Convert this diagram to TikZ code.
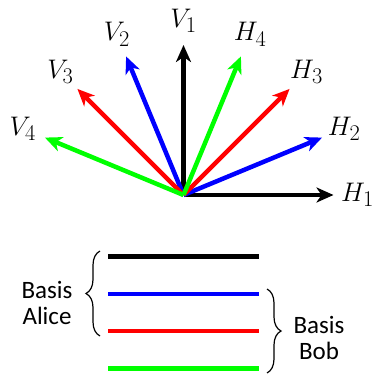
\documentclass[tikz,border=0pt]{standalone}
\usepackage{fontspec}
\usetikzlibrary{arrows.meta,calc,decorations.pathreplacing}
\newfontfamily\carl{Carlito}
\begin{document}
\begin{tikzpicture}[x=1pt,y=-1pt,
  arr/.style={line width=4.5pt,-{Stealth[length=17pt,width=15pt,inset=5pt]}},
  lab/.style={font=\fontsize{24.88}{30}\selectfont, inner sep=0pt},
  bar/.style={line width=4.5pt},
  brc/.style={line width=1.2pt, decorate, decoration={brace, amplitude=14pt}},
  txt/.style={font=\carl\fontsize{25}{26}\selectfont, align=center, inner sep=0pt}]
\useasboundingbox (0,0) rectangle (374,374);
\coordinate (O) at (183.5,195);
\foreach \a/\c/\n/\l in {0/black/h1/H_1, 90/black/v1/V_1,
   22.5/blue/h2/H_2, 112.5/blue/v2/V_2,
   45/red/h3/H_3, 135/red/v3/V_3,
   67.5/green/h4/H_4, 157.5/green/v4/V_4}{
  \coordinate (\n) at ($(O)+(-\a:150)$);
  \draw[arr,\c] (O) -- (\n);
  \node[lab] (lab\n) at ($(O)+(-\a:174)$) {\scalebox{1.08}{$\l$}};
}
\draw[bar,black] (108,256.5) -- (259,256.5);
\draw[bar,blue]  (108,294) -- (259,294);
\draw[bar,red]   (108,331) -- (259,331);
\draw[bar,green] (108,368.5) -- (259,368.5);
\draw[brc] (100,336) -- (100,251);
\draw[brc] (267,289) -- (267,373);
\node[txt] (alice) at (47,303) {Basis\\Alice};
\node[txt] (bob) at (319,338) {Basis\\Bob};
\end{tikzpicture}
\end{document}
